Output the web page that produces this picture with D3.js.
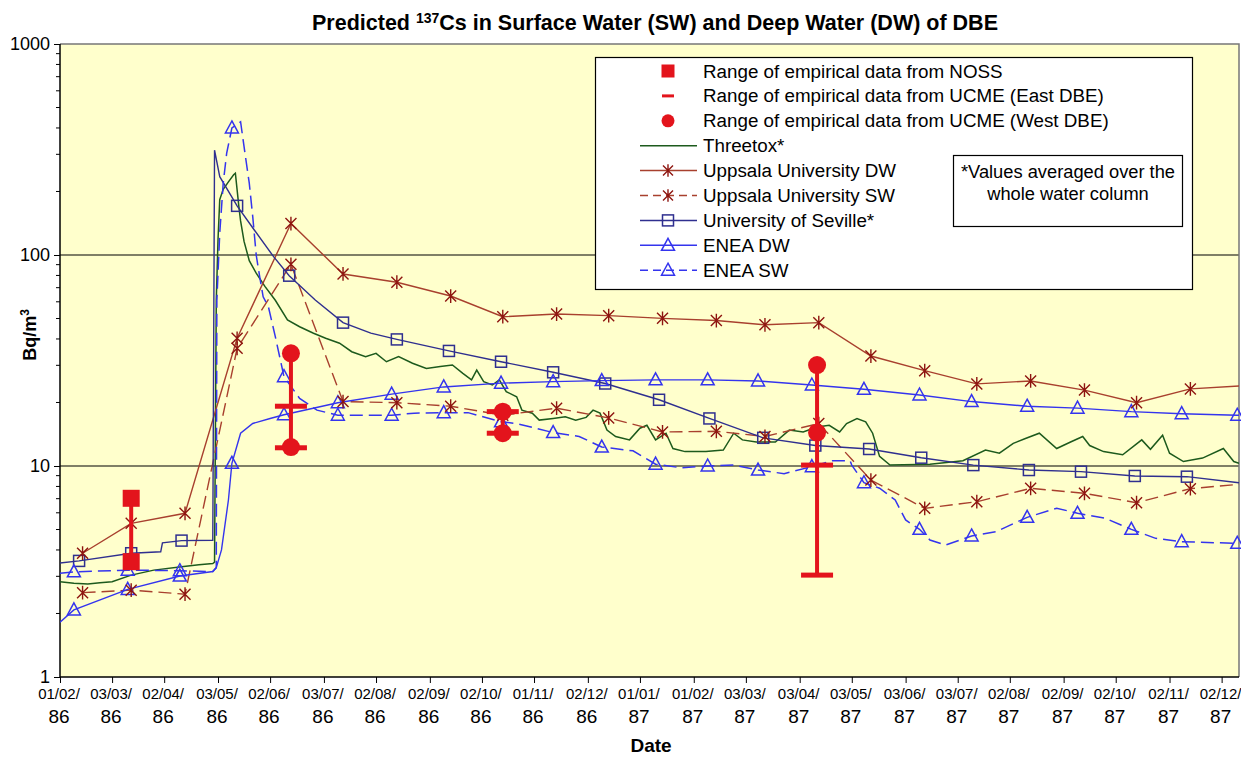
<!DOCTYPE html>
<html><head><meta charset="utf-8">
<script src="https://cdn.jsdelivr.net/npm/d3@7"></script>
<style>
body{margin:0;background:#fff;}
text{font-family:"Liberation Sans",Arial,Helvetica,sans-serif;fill:#000;}
</style></head>
<body><svg id="c" width="1241" height="757"></svg>
<script>
// ---------------- DATA ----------------
const tickDates = ["1986-02-01","1986-03-03","1986-04-02","1986-05-03","1986-06-02","1986-07-03","1986-08-02","1986-09-02","1986-10-02","1986-11-01","1986-12-02","1987-01-01","1987-02-01","1987-03-03","1987-04-03","1987-05-03","1987-06-03","1987-07-03","1987-08-02","1987-09-02","1987-10-02","1987-11-02","1987-12-02"];
const tickLabels = ["01/02/86","03/03/86","02/04/86","03/05/86","02/06/86","03/07/86","02/08/86","02/09/86","02/10/86","01/11/86","02/12/86","01/01/87","01/02/87","03/03/87","03/04/87","03/05/87","03/06/87","03/07/87","02/08/87","02/09/87","02/10/87","02/11/87","02/12/87"];
const yTicks = [1, 10, 100, 1000];

// Uppsala University (monthly points)
const uppsalaDates = ["1986-02-14","1986-03-14","1986-04-14","1986-05-14","1986-06-14","1986-07-14","1986-08-14","1986-09-14","1986-10-14","1986-11-14","1986-12-14","1987-01-14","1987-02-14","1987-03-14","1987-04-14","1987-05-14","1987-06-14","1987-07-14","1987-08-14","1987-09-14","1987-10-14","1987-11-14","1987-12-14"];
const uppsalaDW = [3.86,5.35,5.97,40.3,141,81.3,74.3,63.9,51,52.5,51.6,50.1,48.9,46.7,47.8,33.2,28.3,24.5,25.3,22.9,19.95,23.2,24.0];
const uppsalaSW = [2.51,2.58,2.47,36.1,90.3,20.2,19.95,19.2,17.4,18.8,16.9,14.5,14.6,13.8,15.9,8.58,6.30,6.77,7.84,7.42,6.70,7.81,8.22];

// University of Seville: [date, value, marker?]
const seville = [
 ["1986-02-01",3.47,0],["1986-02-12",3.55,1],["1986-03-14",3.86,1],["1986-03-31",3.92,0],["1986-04-01",4.32,0],
 ["1986-04-12",4.43,1],["1986-04-30",4.45,0],["1986-05-01",314,0],["1986-05-04",235,0],["1986-05-14",171,1],
 ["1986-05-24",131,0],["1986-06-04",98.2,0],["1986-06-13",79.8,1],["1986-06-28",61.2,0],["1986-07-14",47.8,1],
 ["1986-07-30",42.6,0],["1986-08-14",39.8,1],["1986-09-13",35.1,1],["1986-10-13",31.2,1],["1986-11-12",27.8,1],
 ["1986-12-12",24.6,1],["1987-01-12",20.6,1],["1987-02-10",16.8,1],["1987-03-13",13.6,1],["1987-04-12",12.5,1],
 ["1987-05-13",12.04,1],["1987-06-12",10.95,1],["1987-07-12",10.1,1],["1987-08-13",9.57,1],["1987-09-12",9.4,1],
 ["1987-10-13",8.97,1],["1987-11-12",8.9,1],["1987-12-12",8.33,0]
];

// ENEA DW
const eneaDW = [
 ["1986-02-01",1.82,0],["1986-02-09",2.08,1],["1986-03-12",2.6,1],["1986-04-11",3.01,1],["1986-04-30",3.16,0],
 ["1986-05-02",3.3,0],["1986-05-05",4.0,0],["1986-05-09",6.9,0],["1986-05-11",10.3,1],["1986-05-16",14.3,0],
 ["1986-05-23",15.9,0],["1986-06-02",16.8,0],["1986-06-10",17.5,1],["1986-07-11",19.95,1],["1986-08-11",21.9,1],
 ["1986-09-10",23.7,1],["1986-10-13",24.7,1],["1986-11-12",25.1,1],["1986-12-10",25.4,1],["1987-01-10",25.6,1],
 ["1987-02-09",25.6,1],["1987-03-10",25.3,1],["1987-04-10",24.2,1],["1987-05-10",23.1,1],["1987-06-11",21.7,1],
 ["1987-07-11",20.2,1],["1987-08-12",19.2,1],["1987-09-10",18.8,1],["1987-10-11",18.1,1],["1987-11-09",17.7,1],
 ["1987-12-11",17.4,1],["1987-12-12",17.4,0]
];

// ENEA SW
const eneaSW = [
 ["1986-02-01",3.10,0],["1986-02-09",3.15,1],["1986-03-12",3.21,1],["1986-04-11",3.19,1],["1986-04-30",3.16,0],
 ["1986-05-02",3.3,0],["1986-05-02T08",61,0],["1986-05-04",127,0],["1986-05-06",219,0],["1986-05-08",304,0],
 ["1986-05-11",400,1],["1986-05-16",428,0],["1986-05-18",326,0],["1986-05-21",219,0],["1986-05-23",152,0],
 ["1986-05-25",100,0],["1986-05-27",78.9,0],["1986-05-29",63.4,0],["1986-06-01",56.9,0],["1986-06-05",41,0],
 ["1986-06-10",26.5,1],["1986-06-19",20.9,0],["1986-06-29",18.4,0],["1986-07-11",17.4,1],["1986-08-11",17.4,1],
 ["1986-08-24",17.8,0],["1986-09-10",17.9,1],["1986-09-24",17.9,0],["1986-10-13",16.2,1],["1986-10-22",15.9,0],
 ["1986-11-12",14.4,1],["1986-11-27",13.8,0],["1986-12-10",12.3,1],["1986-12-28",11.8,0],["1987-01-10",10.2,1],
 ["1987-01-25",9.8,0],["1987-02-09",10.0,1],["1987-02-24",10.1,0],["1987-03-10",9.57,1],["1987-03-25",9.2,0],
 ["1987-04-10",9.93,1],["1987-04-22",10.6,0],["1987-05-02",10.6,0],["1987-05-03",10.1,0],["1987-05-10",8.33,1],
 ["1987-05-19",7.85,0],["1987-05-28",6.9,0],["1987-06-03",5.55,0],["1987-06-11",5.01,1],["1987-06-17",4.46,0],
 ["1987-06-26",4.22,0],["1987-07-11",4.66,1],["1987-07-25",4.88,0],["1987-08-12",5.71,1],["1987-08-29",6.31,0],
 ["1987-09-10",5.97,1],["1987-09-26",5.65,0],["1987-10-11",5.01,1],["1987-10-25",4.54,0],["1987-11-09",4.38,1],
 ["1987-12-11",4.30,1],["1987-12-12",4.30,0]
];

// Threetox
const threetox = [
 ["1986-02-01",2.83],["1986-02-09",2.78],["1986-02-17",2.76],["1986-02-24",2.80],["1986-03-03",2.83],["1986-03-14",3.04],
 ["1986-03-27",3.21],["1986-04-12",3.33],["1986-04-22",3.40],["1986-04-30",3.45],["1986-05-01",3.5],["1986-05-02",61],
 ["1986-05-03",118],["1986-05-04",183],["1986-05-06",205],["1986-05-09",222],["1986-05-12",240],["1986-05-13",244],
 ["1986-05-15",170],["1986-05-16",145],["1986-05-18",116],["1986-05-21",94],["1986-05-25",82],["1986-05-30",71],
 ["1986-06-05",61],["1986-06-12",49.2],["1986-06-19",45.7],["1986-06-27",42.6],["1986-07-04",40.3],["1986-07-12",38.2],
 ["1986-07-19",34.8],["1986-07-27",33],["1986-08-02",34.2],["1986-08-08",31.2],["1986-08-15",33],["1986-08-23",30.7],
 ["1986-08-31",29],["1986-09-08",29.6],["1986-09-15",30.1],["1986-09-21",27.5],["1986-09-26",25.6],["1986-09-29",28.5],
 ["1986-10-03",25.1],["1986-10-08",24.2],["1986-10-12",25.6],["1986-10-16",22.5],["1986-10-22",21.3],["1986-10-25",18.4],
 ["1986-10-31",17.8],["1986-11-04",16.5],["1986-11-12",16.8],["1986-11-19",17.1],["1986-11-25",16.5],["1986-12-01",17.0],
 ["1986-12-05",18.4],["1986-12-09",17.8],["1986-12-13",14.8],["1986-12-18",13.8],["1986-12-26",13.3],["1987-01-01",15.1],
 ["1987-01-05",15.6],["1987-01-10",13.3],["1987-01-16",14.3],["1987-01-20",12.1],["1987-01-27",11.7],["1987-02-08",11.7],
 ["1987-02-18",11.9],["1987-02-24",14.3],["1987-03-01",13.3],["1987-03-09",13.0],["1987-03-20",13.0],["1987-03-28",14.8],
 ["1987-04-05",14.5],["1987-04-13",15.3],["1987-04-20",15.6],["1987-04-26",14.5],["1987-04-30",15.9],["1987-05-06",16.8],
 ["1987-05-11",16.2],["1987-05-15",14.3],["1987-05-19",11.1],["1987-05-25",10.1],["1987-06-17",10.2],["1987-07-06",10.6],
 ["1987-07-19",11.9],["1987-07-27",11.5],["1987-08-04",12.8],["1987-08-11",13.5],["1987-08-19",14.3],["1987-08-29",12.1],
 ["1987-09-06",13.0],["1987-09-13",13.8],["1987-09-17",12.5],["1987-09-25",11.7],["1987-10-06",11.3],["1987-10-17",13.3],
 ["1987-10-22",12.0],["1987-10-29",14.0],["1987-11-02",11.5],["1987-11-10",10.5],["1987-11-21",10.9],["1987-12-03",12.1],
 ["1987-12-09",10.5],["1987-12-12",10.3]
];

// Empirical ranges
const nossDates = ["1986-03-14"];
const nossMin = [3.52], nossMax = [7.03];
const ucmeDates = ["1986-06-14","1986-10-14","1987-04-13"];
const ucmeEastMin = [12.2,14.3,3.04], ucmeEastMax = [19.2,18.1,10.1];
const ucmeWestMin = [12.3,14.3,14.4], ucmeWestMax = [34.2,18.1,30.1];

const legendLabels = ["Range of empirical data from NOSS","Range of empirical data from UCME (East DBE)","Range of empirical data from UCME (West DBE)","Threetox*","Uppsala University DW","Uppsala University SW","University of  Seville*","ENEA DW","ENEA SW"];

// ---------------- STYLE ----------------
const C = {
  upLine:"#A8402E", upMark:"#8E1510", sev:"#2F2F8F", enea:"#3434EE", green:"#1D5A1D", red:"#E3141C"
};
const parse = s => new Date(s.length > 10 ? s + ":00Z" : s + "T00:00Z");

const svg = d3.select("#c");
const L = 60, R = 1239, T = 44, B = 677;
const x = d3.scaleUtc().domain([parse("1986-02-01"), parse("1987-12-12")]).range([L, R]);
const y = d3.scaleLog().domain([1, 1000]).range([B, T]);

// plot background
svg.append("rect").attr("x",L).attr("y",T).attr("width",R-L).attr("height",B-T).attr("fill","#FFFFCC");
svg.append("defs").append("clipPath").attr("id","clip").append("rect").attr("x",L).attr("y",T).attr("width",R-L).attr("height",B-T);

// grid lines
svg.append("g").selectAll("line").data([10,100]).join("line")
  .attr("x1",L).attr("x2",R).attr("y1",d=>y(d)).attr("y2",d=>y(d)).attr("stroke","#000").attr("stroke-width",1.2);
// top/right border
svg.append("path").attr("d",`M${L},${T}H${R}V${B}`).attr("fill","none").attr("stroke","#777").attr("stroke-width",1.5);

// y axis
const minor = [];
for (let d = 1; d < 1000; d *= 10) for (let k = 2; k <= 9; k++) minor.push(d*k);
const yg = svg.append("g");
yg.selectAll(".mn").data(minor).join("line").attr("x1",L-4).attr("x2",L).attr("y1",d=>y(d)).attr("y2",d=>y(d)).attr("stroke","#000");
yg.append("g").attr("transform",`translate(${L},0)`)
  .call(d3.axisLeft(y).tickValues(yTicks).tickFormat(d3.format("d")).tickSize(6).tickPadding(4))
  .call(a => { a.select(".domain").remove(); a.selectAll("text").attr("font-size",18).attr("font-family","Liberation Sans, Arial, sans-serif").attr("fill","#000"); a.selectAll("line").attr("stroke","#000"); });
yg.append("line").attr("x1",L).attr("x2",L).attr("y1",T).attr("y2",B).attr("stroke","#000").attr("stroke-width",1.5);

// x axis
const xg = svg.append("g").attr("transform",`translate(0,${B})`)
  .call(d3.axisBottom(x).tickValues(tickDates.map(parse)).tickSize(6).tickFormat(""));
xg.select(".domain").remove();
xg.selectAll("line").attr("stroke","#000");
svg.append("line").attr("x1",L).attr("x2",R).attr("y1",B).attr("y2",B).attr("stroke","#000").attr("stroke-width",1.5);
const xl = svg.append("g");
tickDates.forEach((d,i) => {
  const px = x(parse(d)), lab = tickLabels[i];
  xl.append("text").attr("x",px-1).attr("y",699).attr("text-anchor","middle").attr("font-size",15).text(lab.slice(0,6));
  xl.append("text").attr("x",px-1).attr("y",723).attr("text-anchor","middle").attr("font-size",19).text(lab.slice(6));
});

// axis titles
svg.append("text").attr("x",651).attr("y",752).attr("text-anchor","middle").attr("font-size",19).attr("font-weight","bold").text("Date");
const yt = svg.append("text").attr("transform","translate(36,335) rotate(-90)").attr("text-anchor","middle").attr("font-size",18).attr("font-weight","bold");
yt.append("tspan").text("Bq/m");
yt.append("tspan").attr("font-size",12).attr("dy",-7).text("3");

// title
const tt = svg.append("text").attr("x",655).attr("y",30).attr("text-anchor","middle").attr("font-size",21.5).attr("font-weight","bold");
tt.append("tspan").text("Predicted ");
tt.append("tspan").attr("font-size",14).attr("dy",-7).text("137");
tt.append("tspan").attr("dy",7).text("Cs in Surface Water (SW) and Deep Water (DW) of DBE");

// ---------------- SERIES ----------------
const plot = svg.append("g").attr("clip-path","url(#clip)");
const line = d3.line().x(d=>x(parse(d[0]))).y(d=>y(d[1]));

function star(g, cx, cy, r, col) {
  g.append("path").attr("d",`M${cx-r},${cy-r}L${cx+r},${cy+r}M${cx+r},${cy-r}L${cx-r},${cy+r}M${cx},${cy-r*1.25}L${cx},${cy+r*1.25}`)
    .attr("stroke",col).attr("stroke-width",1.4).attr("fill","none");
}
function square(g, cx, cy, col) {
  g.append("rect").attr("x",cx-5.5).attr("y",cy-5.5).attr("width",11).attr("height",11).attr("fill","none").attr("stroke",col).attr("stroke-width",1.5);
}
function tri(g, cx, cy, col) {
  g.append("path").attr("d",`M${cx},${cy-7}L${cx+6.5},${cy+5}L${cx-6.5},${cy+5}Z`).attr("fill","none").attr("stroke",col).attr("stroke-width",1.5);
}

// Threetox
plot.append("path").datum(threetox).attr("d",line).attr("fill","none").attr("stroke",C.green).attr("stroke-width",1.5);

// Uppsala
const upDW = uppsalaDates.map((d,i)=>[d,uppsalaDW[i]]);
const upSW = uppsalaDates.map((d,i)=>[d,uppsalaSW[i]]);
plot.append("path").datum(upDW).attr("d",line).attr("fill","none").attr("stroke",C.upLine).attr("stroke-width",1.4);
plot.append("path").datum(upSW).attr("d",line).attr("fill","none").attr("stroke",C.upLine).attr("stroke-width",1.4).attr("stroke-dasharray","13,6");

// Seville
plot.append("path").datum(seville).attr("d",line).attr("fill","none").attr("stroke",C.sev).attr("stroke-width",1.4);
// ENEA
plot.append("path").datum(eneaDW).attr("d",line).attr("fill","none").attr("stroke",C.enea).attr("stroke-width",1.4);
plot.append("path").datum(eneaSW).attr("d",line).attr("fill","none").attr("stroke",C.enea).attr("stroke-width",1.5).attr("stroke-dasharray","13,6");

// markers
const mk = svg.append("g");
const inDom = d => { const px = x(parse(d)); return px >= L && px <= R; };
seville.filter(d=>d[2]).forEach(d => square(mk, x(parse(d[0])), y(d[1]), C.sev));
eneaDW.filter(d=>d[2]).forEach(d => tri(mk, x(parse(d[0])), y(d[1]), C.enea));
eneaSW.filter(d=>d[2]).forEach(d => tri(mk, x(parse(d[0])), y(d[1]), C.enea));
upDW.filter(d=>inDom(d[0])).forEach(d => star(mk, x(parse(d[0])), y(d[1]), 5.5, C.upMark));
upSW.filter(d=>inDom(d[0])).forEach(d => star(mk, x(parse(d[0])), y(d[1]), 5.5, C.upMark));

// empirical ranges
const em = svg.append("g");
nossDates.forEach((d,i) => {
  const px = x(parse(d));
  em.append("line").attr("x1",px).attr("x2",px).attr("y1",y(nossMin[i])).attr("y2",y(nossMax[i])).attr("stroke",C.red).attr("stroke-width",4);
  [nossMin[i], nossMax[i]].forEach(v => em.append("rect").attr("x",px-8.5).attr("y",y(v)-8.5).attr("width",17).attr("height",17).attr("fill",C.red));
});
ucmeDates.forEach((d,i) => {
  const px = x(parse(d));
  const lo = Math.min(ucmeEastMin[i], ucmeWestMin[i]), hi = Math.max(ucmeEastMax[i], ucmeWestMax[i]);
  em.append("line").attr("x1",px).attr("x2",px).attr("y1",y(lo)).attr("y2",y(hi)).attr("stroke",C.red).attr("stroke-width",4);
  [ucmeEastMin[i], ucmeEastMax[i]].forEach(v => em.append("rect").attr("x",px-16).attr("y",y(v)-2.5).attr("width",32).attr("height",5).attr("fill",C.red));
  [ucmeWestMin[i], ucmeWestMax[i]].forEach(v => em.append("circle").attr("cx",px).attr("cy",y(v)).attr("r",9).attr("fill",C.red));
});

// ---------------- LEGEND ----------------
const lg = svg.append("g");
lg.append("rect").attr("x",595.5).attr("y",57.5).attr("width",597).attr("height",232).attr("fill","#fff").attr("stroke","#000").attr("stroke-width",1.2);
const rowY = i => 71 + i*24.9;
legendLabels.forEach((t,i) => {
  lg.append("text").attr("x",703).attr("y",rowY(i)).attr("dy","0.35em").attr("font-size",18.8).text(t);
});
const mx = 668;
lg.append("rect").attr("x",mx-6.5).attr("y",rowY(0)-6.5).attr("width",13).attr("height",13).attr("fill",C.red);
lg.append("rect").attr("x",mx-6).attr("y",rowY(1)-1.5).attr("width",12).attr("height",3).attr("fill",C.red);
lg.append("circle").attr("cx",mx).attr("cy",rowY(2)).attr("r",6.5).attr("fill",C.red);
const seg = (i, col, dash) => lg.append("line").attr("x1",640).attr("x2",697).attr("y1",rowY(i)).attr("y2",rowY(i)).attr("stroke",col).attr("stroke-width",1.5).attr("stroke-dasharray",dash||null);
seg(3, C.green);
seg(4, C.upLine); star(lg, mx, rowY(4), 5, C.upMark);
seg(5, C.upLine, "8,5"); star(lg, mx, rowY(5), 5, C.upMark);
seg(6, C.sev); square(lg, mx, rowY(6), C.sev);
seg(7, C.enea); tri(lg, mx, rowY(7), C.enea);
seg(8, C.enea, "8,5"); tri(lg, mx, rowY(8), C.enea);

// note box
lg.append("rect").attr("x",953.5).attr("y",155.5).attr("width",229).attr("height",71).attr("fill","#fff").attr("stroke","#000").attr("stroke-width",1.2);
lg.append("text").attr("x",1068).attr("y",172).attr("dy","0.35em").attr("text-anchor","middle").attr("font-size",18.3).text("*Values averaged over the");
lg.append("text").attr("x",1068).attr("y",194).attr("dy","0.35em").attr("text-anchor","middle").attr("font-size",18.3).text("whole water column");
</script></body></html>
